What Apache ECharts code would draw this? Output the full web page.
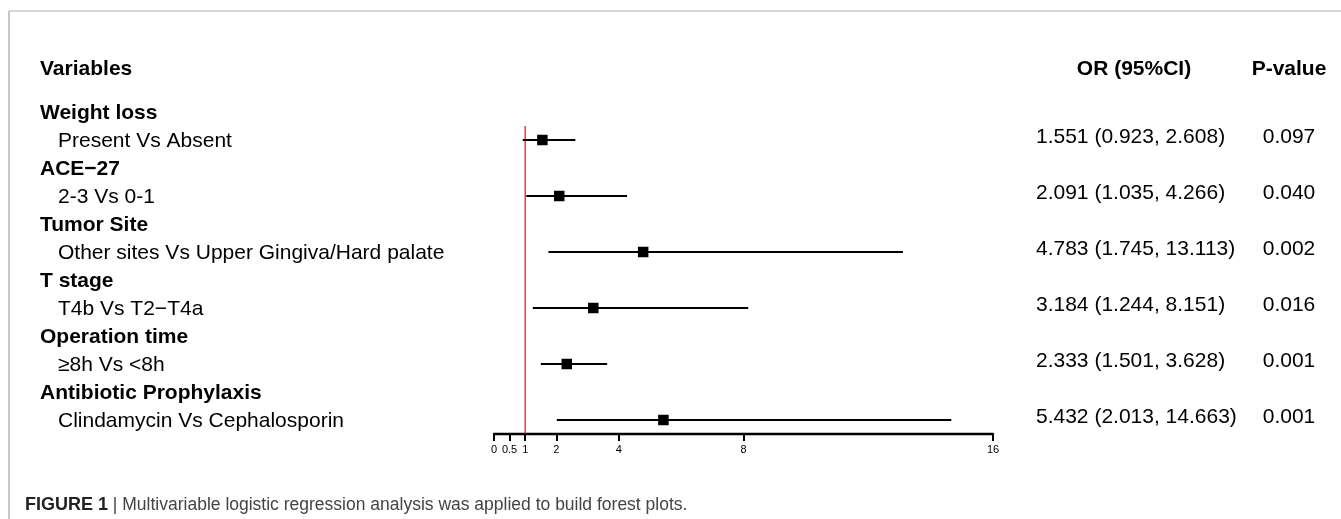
<!DOCTYPE html>
<html>
<head>
<meta charset="utf-8">
<title>Forest plot</title>
<script src="https://cdn.jsdelivr.net/npm/echarts@6/dist/echarts.min.js"></script>
<style>
  html, body { margin: 0; padding: 0; background: #ffffff; }
  #chart { width: 1341px; height: 519px; }
</style>
</head>
<body>
<div id="chart"></div>
<script>
// Multivariable logistic regression: odds ratios with 95% confidence intervals
const groups = ['Weight loss', 'ACE\u221227', 'Tumor Site', 'T stage', 'Operation time', 'Antibiotic Prophylaxis'];
const comparisons = ['Present Vs Absent', '2-3 Vs 0-1', 'Other sites Vs Upper Gingiva/Hard palate', 'T4b Vs T2\u2212T4a', '\u22658h Vs <8h', 'Clindamycin Vs Cephalosporin'];
const oddsRatio = [1.551, 2.091, 4.783, 3.184, 2.333, 5.432];
const ciLower = [0.923, 1.035, 1.745, 1.244, 1.501, 2.013];
const ciUpper = [2.608, 4.266, 13.113, 8.151, 3.628, 14.663];
const pValues = ['0.097', '0.040', '0.002', '0.016', '0.001', '0.001'];
const tickValues = [0, 0.5, 1, 2, 4, 8, 16];
const referenceLine = 1;

const FONT = '"Liberation Sans", Arial, sans-serif';
const NARROW = '"Liberation Sans Narrow", "Liberation Sans", Arial, sans-serif';

const rows = oddsRatio.map((v, i) => [ciLower[i], ciUpper[i], v, i]);

function renderRow(params, api) {
  const i = api.value(3);
  const lo = api.coord([api.value(0), i]);
  const hi = api.coord([api.value(1), i]);
  const mid = api.coord([api.value(2), i]);
  const y = mid[1];
  const s = 10.5;
  const orText = oddsRatio[i].toFixed(3) + ' (' + ciLower[i].toFixed(3) + ', ' + ciUpper[i].toFixed(3) + ')';
  return {
    type: 'group',
    children: [
      { type: 'line', shape: { x1: lo[0], y1: y, x2: hi[0], y2: y },
        style: { stroke: '#000', lineWidth: 2 } },
      { type: 'rect', shape: { x: mid[0] - s / 2, y: y - s / 2, width: s, height: s },
        style: { fill: '#000' } },
      { type: 'text', style: { text: groups[i], x: 40, y: y - 27, fill: '#000',
        font: 'bold 21px ' + FONT, align: 'left', verticalAlign: 'middle' } },
      { type: 'text', style: { text: comparisons[i], x: 58, y: y + 1, fill: '#000',
        font: '21px ' + FONT, align: 'left', verticalAlign: 'middle' } },
      { type: 'text', style: { text: orText, x: 1036, y: y - 3, fill: '#000',
        font: '21px ' + FONT, align: 'left', verticalAlign: 'middle' } },
      { type: 'text', style: { text: pValues[i], x: 1289, y: y - 3, fill: '#000',
        font: '21px ' + FONT, align: 'center', verticalAlign: 'middle' } }
    ]
  };
}

const chart = echarts.init(document.getElementById('chart'), null, { renderer: 'canvas' });
chart.setOption({
  backgroundColor: '#ffffff',
  animation: false,
  grid: { left: 494, right: 348, top: 126, height: 308 },
  xAxis: {
    type: 'value',
    min: 0,
    max: 16,
    splitLine: { show: false },
    axisLine: { show: true, onZero: false, lineStyle: { color: '#000', width: 2.4 } },
    axisTick: { show: true, length: 7, inside: false, customValues: tickValues,
      lineStyle: { color: '#000', width: 2 } },
    axisLabel: { show: true, customValues: tickValues, margin: 10, color: '#000',
      fontSize: 11, fontFamily: NARROW, formatter: v => String(v) }
  },
  yAxis: {
    type: 'value',
    inverse: true,
    min: -0.25,
    max: 5.25,
    show: false
  },
  graphic: [
    { type: 'line', shape: { x1: 9, y1: 11, x2: 1341, y2: 11 },
      style: { stroke: '#c8c8c8', lineWidth: 1.5 } },
    { type: 'line', shape: { x1: 9, y1: 11, x2: 9, y2: 519 },
      style: { stroke: '#b4b4b4', lineWidth: 1.5 } },
    { type: 'text', x: 40, y: 69, style: { text: 'Variables', fill: '#000',
      font: 'bold 21px ' + FONT, align: 'left', verticalAlign: 'middle' } },
    { type: 'text', x: 1134, y: 69, style: { text: 'OR (95%CI)', fill: '#000',
      font: 'bold 21px ' + FONT, align: 'center', verticalAlign: 'middle' } },
    { type: 'text', x: 1289, y: 69, style: { text: 'P-value', fill: '#000',
      font: 'bold 21px ' + FONT, align: 'center', verticalAlign: 'middle' } },
    { type: 'text', x: 25, y: 505, style: {
      text: '{b|FIGURE 1}{r| | Multivariable logistic regression analysis was applied to build forest plots.}',
      verticalAlign: 'middle',
      rich: {
        b: { fontFamily: NARROW, fontWeight: 'bold', fontSize: 18, fill: '#222' },
        r: { fontFamily: FONT, fontSize: 17.5, fill: '#444' }
      } } }
  ],
  series: [
    {
      type: 'line',
      data: [[referenceLine, -0.25], [referenceLine, 5.25]],
      symbol: 'none',
      lineStyle: { color: '#ff0000', width: 1.2 },
      silent: true,
      z: 1
    },
    {
      type: 'custom',
      data: rows,
      encode: { x: [0, 1, 2], y: 3 },
      renderItem: renderRow,
      clip: false,
      silent: true,
      z: 2
    }
  ]
});
</script>
</body>
</html>
